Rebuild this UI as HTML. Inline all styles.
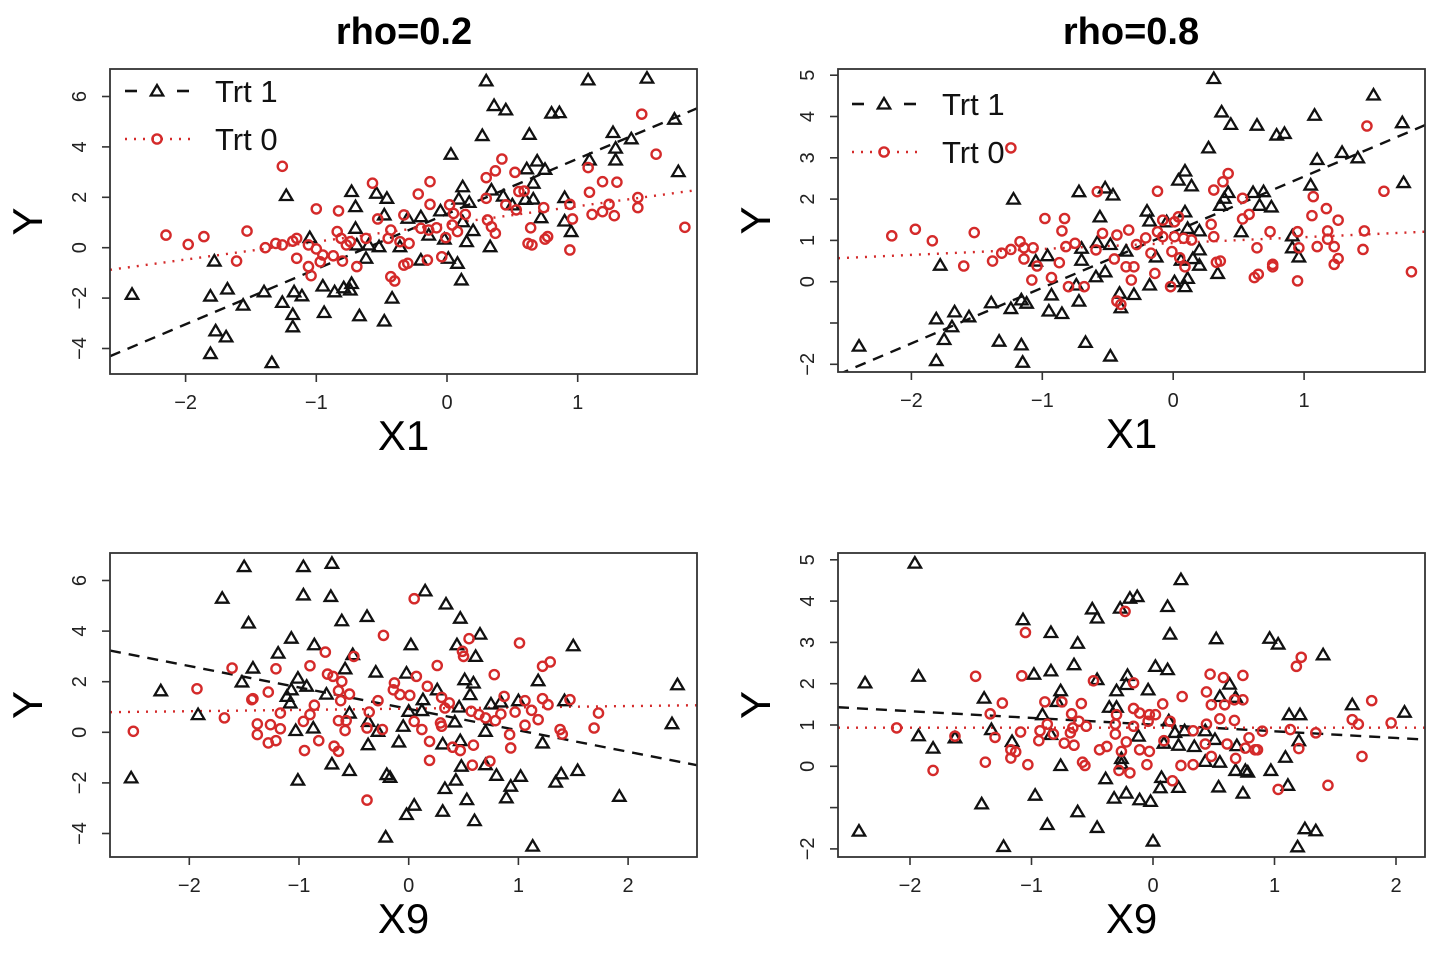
<!DOCTYPE html>
<html><head><meta charset="utf-8"><style>
html,body{margin:0;padding:0;background:#fff;}
svg{display:block;font-family:"Liberation Sans",Arial,sans-serif;}
</style></head><body>
<svg id="chart" width="1444" height="964" viewBox="0 0 1444 964"></svg>
<script>
// ---- data (x, y) ----
const tlTrt1=[[0.30,6.62],[1.08,6.66],[1.53,6.73],[0.36,5.64],[0.45,5.47],[0.80,5.34],[0.86,5.36],[0.27,4.45],[0.63,4.50],[1.27,4.57],[1.74,5.10],[1.41,4.32],[0.03,3.71],[1.29,3.95],[1.29,3.48],[1.09,3.48],[0.69,3.44],[0.61,3.13],[0.75,3.11],[1.77,3.02],[0.66,2.56],[0.34,2.29],[0.43,2.05],[0.12,2.42],[0.60,1.92],[0.66,1.93],[0.90,1.99],[0.50,1.70],[0.09,1.93],[0.17,1.80],[-0.73,2.23],[-0.54,2.16],[-0.46,1.96],[-0.70,1.63],[-0.48,1.30],[-0.30,1.17],[-0.20,1.23],[-0.05,1.46],[0.12,1.03],[0.20,0.68],[0.15,0.24],[0.33,0.04],[0.72,1.19],[0.90,1.06],[0.95,0.64],[-1.23,2.07],[-0.70,0.77],[-1.05,0.40],[-0.69,0.11],[-0.60,0.11],[-0.52,0.04],[-0.36,0.04],[-0.14,0.50],[-0.02,0.34],[-0.62,-0.42],[-0.20,-0.49],[0.01,-0.42],[0.08,-0.62],[0.11,-1.28],[-1.78,-0.53],[-2.41,-1.85],[-1.81,-1.92],[-1.68,-1.64],[-1.40,-1.75],[-1.56,-2.28],[-1.26,-2.17],[-1.17,-1.75],[-1.11,-1.91],[-0.95,-1.52],[-0.86,-1.75],[-0.79,-1.59],[-0.73,-1.42],[-0.74,-1.68],[-0.42,-2.0],[-1.18,-2.65],[-0.94,-2.57],[-0.67,-2.70],[-0.48,-2.91],[-1.77,-3.30],[-1.69,-3.54],[-1.18,-3.14],[-1.81,-4.20],[-1.34,-4.56]];
const tlTrt0=[[1.49,5.30],[1.60,3.71],[-1.26,3.23],[0.42,3.52],[0.37,3.05],[0.30,2.78],[0.52,2.99],[-0.13,2.62],[-0.57,2.56],[-0.22,2.13],[0.59,2.25],[1.08,3.18],[1.09,2.20],[1.19,2.62],[1.30,2.60],[1.46,1.99],[1.46,1.59],[1.24,1.72],[1.19,1.43],[1.11,1.32],[1.28,1.27],[1.82,0.81],[0.94,1.72],[0.96,1.14],[0.74,1.59],[0.53,1.50],[0.64,0.79],[0.77,0.44],[0.75,0.34],[0.62,0.17],[0.65,0.11],[0.94,-0.09],[0.31,1.10],[0.34,0.83],[0.37,0.57],[0.30,1.96],[-0.13,1.72],[0.02,1.70],[0.05,1.36],[0.14,1.32],[0.04,0.90],[0.08,0.64],[-0.01,0.40],[-0.08,0.79],[-0.14,0.70],[-0.20,0.77],[-0.33,1.30],[-0.43,0.70],[-0.45,0.37],[-0.53,1.14],[-0.62,0.37],[-0.83,1.46],[-1.00,1.54],[-0.84,0.64],[-0.81,0.37],[-0.77,0.11],[-0.74,0.24],[-0.87,-0.32],[-0.80,-0.53],[-0.69,-0.75],[-0.95,-0.29],[-1.00,-0.05],[-1.06,0.11],[-1.15,0.37],[-1.18,0.26],[-1.26,0.11],[-1.31,0.17],[-1.39,0.00],[-1.15,-0.42],[-1.06,-0.75],[-1.04,-1.11],[-0.97,-0.56],[-1.53,0.66],[-1.61,-0.53],[-1.86,0.44],[-1.98,0.13],[-2.15,0.50],[-0.43,-1.15],[-0.40,-1.32],[-0.33,-0.69],[-0.30,-0.62],[-0.15,-0.49],[-0.04,-0.36],[-0.36,0.24],[-0.29,0.17],[0.45,1.70],[0.55,2.23]];
const trTrt1=[[0.31,4.92],[1.53,4.52],[0.37,4.11],[0.44,3.81],[0.64,3.79],[0.79,3.55],[0.85,3.59],[1.08,4.03],[1.75,3.85],[0.27,3.24],[1.10,2.96],[1.29,3.13],[1.41,3.0],[1.76,2.40],[0.09,2.68],[0.04,2.46],[0.14,2.32],[1.05,2.34],[0.42,2.16],[0.61,2.16],[0.69,2.18],[0.39,2.02],[0.36,1.85],[0.66,1.85],[0.75,1.81],[-1.22,2.0],[-0.72,2.18],[-0.52,2.27],[-0.46,2.10],[-0.56,1.57],[-0.20,1.71],[-0.18,1.47],[-0.05,1.45],[0.09,1.69],[0.20,1.23],[0.52,1.21],[0.91,1.11],[0.91,0.82],[0.96,0.60],[0.11,1.29],[-0.70,0.81],[-0.58,0.95],[-0.48,0.90],[-0.36,0.74],[-0.13,0.60],[0.06,0.52],[0.20,0.77],[0.20,0.40],[0.15,0.56],[0.34,0.20],[-0.96,0.63],[-1.05,0.50],[-0.70,0.52],[-0.74,-0.08],[-0.59,0.12],[-0.52,0.24],[0.01,0.0],[0.09,-0.12],[0.11,0.08],[-0.18,-0.08],[-0.30,-0.31],[-0.41,-0.28],[-0.72,-0.47],[-0.93,-0.32],[-0.95,-0.71],[-0.85,-0.77],[-0.40,-0.63],[-1.12,-0.52],[-1.16,-0.44],[-1.24,-0.65],[-1.39,-0.51],[-1.56,-0.85],[-1.67,-0.73],[-1.81,-0.90],[-1.69,-1.09],[-1.75,-1.40],[-1.78,0.40],[-2.40,-1.56],[-1.81,-1.91],[-1.33,-1.44],[-1.16,-1.53],[-1.15,-1.95],[-0.67,-1.47],[-0.48,-1.80]];
const trTrt0=[[1.48,3.77],[-1.24,3.24],[0.42,2.62],[0.38,2.42],[0.31,2.22],[-0.12,2.19],[-0.58,2.18],[1.61,2.19],[1.07,2.06],[0.53,2.02],[1.17,1.77],[1.06,1.60],[1.26,1.49],[0.53,1.52],[0.58,1.63],[0.29,1.39],[0.31,1.09],[0.74,1.21],[0.64,0.82],[1.18,1.23],[1.18,1.03],[1.23,0.85],[1.10,0.85],[1.46,1.23],[1.45,0.78],[1.26,0.56],[1.23,0.42],[1.82,0.24],[0.95,1.21],[0.96,0.82],[0.95,0.02],[0.76,0.42],[0.76,0.36],[0.65,0.18],[0.62,0.10],[0.36,0.50],[0.33,0.47],[0.04,1.57],[0.01,1.45],[-0.08,1.49],[-0.12,1.21],[-0.08,1.09],[0.01,1.09],[0.08,1.05],[0.14,1.01],[-0.01,0.73],[0.05,0.58],[0.09,0.36],[-0.02,-0.12],[-0.14,0.20],[-0.17,0.69],[-0.21,1.06],[-0.34,1.25],[-0.28,0.90],[-0.43,1.13],[-0.54,1.17],[-0.59,0.77],[-0.45,0.55],[-0.36,0.36],[-0.30,0.36],[-0.32,0.04],[-0.43,-0.47],[-0.40,-0.55],[-0.68,-0.12],[-0.80,-0.12],[-0.82,0.85],[-0.83,1.53],[-0.98,1.53],[-0.85,1.23],[-0.75,0.93],[-0.87,0.46],[-0.93,0.10],[-1.08,0.04],[-1.04,0.38],[-1.07,0.82],[-1.14,0.82],[-1.17,0.97],[-1.24,0.78],[-1.31,0.69],[-1.38,0.50],[-1.14,0.55],[-1.52,1.19],[-1.60,0.38],[-1.84,0.99],[-1.97,1.27],[-2.15,1.11]];
const blTrt1=[[-1.50,6.55],[-0.96,6.55],[-0.70,6.68],[-1.70,5.30],[-0.96,5.43],[-0.71,5.37],[0.15,5.59],[0.34,5.07],[-1.46,4.32],[-0.61,4.41],[-0.38,4.58],[0.47,4.51],[-1.07,3.72],[-0.86,3.46],[0.02,3.46],[-1.19,3.13],[-0.51,3.07],[0.44,3.46],[0.65,3.88],[0.61,3.0],[1.50,3.42],[-2.26,1.64],[-1.42,2.54],[-1.52,1.99],[-0.58,2.51],[-0.30,2.38],[-0.02,2.34],[-1.01,2.14],[-0.93,1.82],[-1.07,1.68],[-1.11,1.42],[-1.08,1.16],[-0.75,1.51],[0.51,2.08],[0.59,1.95],[0.26,1.68],[0.56,1.49],[0.13,1.29],[0.12,0.86],[0.46,1.0],[1.18,2.04],[1.42,1.25],[1.0,1.25],[0.75,1.12],[0.84,1.20],[2.45,1.88],[2.40,0.34],[-1.92,0.70],[-0.54,0.76],[-0.37,0.43],[0.0,0.83],[-0.05,0.24],[0.42,0.41],[0.70,0.04],[-1.03,0.07],[-0.87,0.17],[-0.28,0.04],[-0.37,-0.49],[-0.09,-0.38],[0.31,-0.46],[0.47,-0.33],[1.22,-0.42],[-0.70,-1.25],[-0.54,-1.51],[-0.20,-1.67],[-0.17,-1.78],[0.48,-1.34],[0.70,-1.28],[0.80,-1.70],[1.02,-1.74],[1.39,-1.64],[1.54,-1.51],[-2.53,-1.80],[-1.01,-1.89],[0.43,-1.89],[0.33,-2.22],[0.93,-2.13],[1.34,-1.97],[0.53,-2.66],[0.89,-2.59],[1.92,-2.53],[0.05,-2.88],[-0.02,-3.25],[0.31,-3.12],[0.60,-3.49],[-0.21,-4.14],[1.13,-4.50]];
const blTrt0=[[0.05,5.28],[-0.23,3.83],[0.55,3.70],[1.01,3.53],[0.49,3.20],[0.50,3.0],[-0.76,3.17],[-0.50,3.0],[-0.90,2.63],[0.26,2.64],[1.29,2.78],[1.22,2.61],[-1.61,2.54],[-0.74,2.30],[-0.69,2.21],[0.07,2.21],[0.78,2.28],[-1.93,1.72],[-1.21,2.51],[-1.42,1.33],[-1.43,1.29],[-1.28,1.59],[-0.61,2.01],[-0.64,1.64],[-0.54,1.51],[-0.62,1.25],[-0.86,1.07],[-0.90,0.70],[-0.96,0.43],[-1.17,0.76],[-1.68,0.57],[-1.38,0.33],[-1.38,-0.09],[-1.26,0.30],[-1.17,0.14],[-1.28,-0.42],[-1.21,-0.33],[-2.51,0.04],[-0.82,-0.33],[-0.95,-0.72],[-0.68,-0.55],[-0.64,-0.75],[-0.64,0.46],[-0.58,0.07],[-0.57,0.46],[-0.36,0.80],[-0.38,0.17],[-0.24,0.11],[-0.28,1.25],[-0.38,-2.68],[-0.13,1.95],[-0.14,1.68],[-0.08,1.49],[0.01,1.46],[0.17,1.82],[0.30,1.38],[0.37,1.16],[0.33,0.96],[0.19,-0.36],[0.19,-1.11],[0.12,0.11],[0.05,0.43],[0.29,0.37],[0.30,0.24],[0.40,-0.59],[0.47,-0.72],[0.59,-0.51],[0.58,-1.30],[0.74,-1.14],[0.57,0.83],[0.64,0.70],[0.70,0.57],[0.79,0.46],[0.84,0.72],[0.87,1.42],[0.92,-0.09],[0.93,-0.62],[0.97,0.80],[1.06,0.28],[1.06,1.25],[1.12,0.87],[1.18,0.50],[1.22,1.33],[1.27,1.09],[1.38,0.11],[1.40,-0.07],[1.47,1.29],[1.69,0.17],[1.73,0.76]];
const brTrt1=[[-1.96,4.92],[0.23,4.52],[-0.19,4.07],[-0.13,4.11],[-0.27,3.83],[-0.50,3.81],[-0.46,3.59],[0.12,3.87],[-1.07,3.55],[-0.84,3.24],[0.14,3.20],[-0.62,2.98],[0.52,3.09],[0.96,3.10],[1.03,2.96],[1.40,2.70],[-1.93,2.18],[-2.37,2.02],[-0.98,2.23],[-0.84,2.31],[-0.65,2.46],[0.02,2.42],[0.12,2.34],[-0.21,2.20],[-0.46,2.10],[-0.22,1.98],[-0.30,1.83],[-0.04,1.85],[-0.76,1.83],[-1.39,1.65],[0.63,1.99],[0.55,1.69],[0.68,1.67],[-0.36,1.43],[-0.30,1.43],[-0.91,1.25],[-0.79,1.57],[0.13,1.10],[1.12,1.25],[1.21,1.25],[1.64,1.49],[2.07,1.31],[-1.93,0.74],[-1.33,0.89],[-0.84,0.77],[-0.12,0.73],[0.18,0.82],[0.26,0.86],[0.43,0.86],[0.51,0.65],[0.69,0.50],[1.20,0.62],[-1.63,0.69],[-1.16,0.60],[-1.81,0.44],[0.09,0.56],[0.21,0.51],[0.34,0.48],[0.43,0.12],[0.55,0.10],[0.68,-0.10],[0.76,-0.10],[0.78,-0.14],[0.97,-0.10],[1.09,0.22],[-0.76,0.02],[-0.26,0.19],[-0.26,0.06],[-0.39,-0.30],[0.07,-0.27],[0.06,-0.52],[0.21,-0.51],[0.54,-0.50],[1.11,-0.46],[0.74,-0.65],[-0.97,-0.70],[-0.32,-0.77],[-0.22,-0.65],[-0.11,-0.81],[-0.02,-0.85],[-1.41,-0.91],[-0.62,-1.10],[-0.87,-1.41],[-0.46,-1.48],[-2.42,-1.57],[-1.23,-1.94],[0.0,-1.81],[1.19,-1.95],[1.25,-1.51],[1.34,-1.56]];
const brTrt0=[[-0.23,3.75],[-1.05,3.24],[1.22,2.64],[1.18,2.42],[-1.46,2.18],[-1.08,2.19],[0.47,2.23],[0.58,2.15],[0.74,2.20],[-0.49,2.07],[-0.16,2.02],[0.44,1.80],[0.24,1.69],[0.67,1.61],[0.74,1.61],[-1.24,1.53],[-0.89,1.56],[-0.59,1.52],[0.08,1.51],[0.48,1.49],[0.59,1.49],[1.80,1.59],[-0.16,1.40],[-0.11,1.29],[-0.03,1.25],[0.02,1.25],[-0.30,1.25],[-0.67,1.27],[-0.75,1.56],[-1.34,1.27],[0.55,1.15],[0.67,1.11],[1.64,1.13],[1.69,1.02],[1.96,1.05],[-2.11,0.93],[-0.87,1.02],[-0.61,1.09],[-0.66,0.93],[-0.55,0.97],[-0.31,1.02],[-0.16,0.97],[-0.04,1.09],[0.14,1.09],[0.44,1.02],[0.33,0.86],[0.90,0.85],[1.13,0.89],[1.34,0.81],[-1.63,0.73],[-1.30,0.70],[-1.09,0.83],[-0.93,0.86],[-0.94,0.62],[-0.82,0.78],[-0.73,0.56],[-0.65,0.51],[-0.68,0.81],[-0.31,0.78],[-0.38,0.48],[-0.44,0.40],[-0.22,0.59],[0.09,0.62],[0.43,0.54],[0.61,0.54],[0.79,0.69],[0.76,0.44],[0.84,0.40],[0.86,0.40],[1.20,0.43],[1.72,0.24],[-1.17,0.40],[-1.13,0.35],[-1.17,0.20],[-0.11,0.40],[-0.03,0.36],[-0.26,0.36],[0.48,0.24],[0.68,0.19],[-1.38,0.10],[-1.03,0.04],[-0.58,0.10],[-0.56,0.02],[-0.05,0.04],[0.23,0.02],[0.33,0.04],[-0.28,-0.10],[-0.19,-0.16],[-1.81,-0.10],[0.16,-0.35],[1.03,-0.56],[1.44,-0.46]];
// fitted lines: [intercept, slope]
const tlFit1=[1.34,2.19], tlFit0=[0.94,0.705];
const trFit1=[1.20,1.347], trFit0=[0.935,0.143];
const blFit1=[0.925,-0.847], blFit0=[0.935,0.051];
const brFit1=[1.01,-0.162], brFit0=[0.935,0.0];
// tick labels
const xTicksTop=[-2,-1,0,1];
const xTicksBot=[-2,-1,0,1,2];
const yTicksA=[-4,-2,0,2,4,6];
const yTicksB=[-2,-1,0,1,2,3,4,5];
const yLabelsB=["-2","","0","1","2","3","4","5"];

const NS="http://www.w3.org/2000/svg";
const svg=document.getElementById('chart');
function mk(tag,attrs,parent){const e=document.createElementNS(NS,tag);for(const k in attrs)e.setAttribute(k,attrs[k]);(parent||svg).appendChild(e);return e;}

const panels=[
 {id:'top-left',L:110,R:697,T:69,B:374,x0:447,sx:130.7,y0:247.7,sy:25.2,t1:tlTrt1,t0:tlTrt0,f1:tlFit1,f0:tlFit0,xt:xTicksTop,yt:yTicksA,yl:null,xlab:'X1',legend:{y1:91,y2:139,lx:125,tx:215}},
 {id:'top-right',L:838,R:1425,T:69,B:372,x0:1173.2,sx:130.9,y0:281.7,sy:41.3,t1:trTrt1,t0:trTrt0,f1:trFit1,f0:trFit0,xt:xTicksTop,yt:yTicksB,yl:yLabelsB,xlab:'X1',legend:{y1:104,y2:152,lx:852,tx:942}},
 {id:'bottom-left',L:110,R:697,T:553,B:857,x0:408.7,sx:109.7,y0:732.3,sy:25.3,t1:blTrt1,t0:blTrt0,f1:blFit1,f0:blFit0,xt:xTicksBot,yt:yTicksA,yl:null,xlab:'X9'},
 {id:'bottom-right',L:838,R:1425,T:553,B:857,x0:1153,sx:121.5,y0:766.3,sy:41.3,t1:brTrt1,t0:brTrt0,f1:brFit1,f0:brFit0,xt:xTicksBot,yt:yTicksB,yl:yLabelsB,xlab:'X9'}
];

function tri(g,cx,cy){return mk('polygon',{points:`${cx},${cy-6} ${cx-6.2},${cy+4.5} ${cx+6.2},${cy+4.5}`,fill:'none',stroke:'#111','stroke-width':2.3,'stroke-linejoin':'miter'},g);}
function circ(g,cx,cy){return mk('circle',{cx:cx,cy:cy,r:4.6,fill:'none',stroke:'#d42a2a','stroke-width':2.4},g);}

// titles
let t=mk('text',{x:404,y:44,'text-anchor':'middle','font-size':38,'font-weight':'bold',fill:'#000'});t.textContent='rho=0.2';


t=mk('text',{x:1131,y:44,'text-anchor':'middle','font-size':38,'font-weight':'bold',fill:'#000'});t.textContent='rho=0.8';



panels.forEach(p=>{
  const g=mk('g',{});
  
  
  const X=v=>p.x0+p.sx*v, Y=v=>p.y0-p.sy*v;
  const clipId='clip-'+p.id;
  const cp=mk('clipPath',{id:clipId},g);mk('rect',{x:p.L,y:p.T,width:p.R-p.L,height:p.B-p.T},cp);
  const xa=(p.L-p.x0)/p.sx, xb=(p.R-p.x0)/p.sx;
  let ln=mk('line',{x1:X(xa),y1:Y(p.f1[0]+p.f1[1]*xa),x2:X(xb),y2:Y(p.f1[0]+p.f1[1]*xb),stroke:'#111','stroke-width':2.4,'stroke-dasharray':'11 8','clip-path':`url(#${clipId})`},g);
  
  
  ln=mk('line',{x1:X(xa),y1:Y(p.f0[0]+p.f0[1]*xa),x2:X(xb),y2:Y(p.f0[0]+p.f0[1]*xb),stroke:'#d42a2a','stroke-width':2.4,'stroke-dasharray':'2 7','clip-path':`url(#${clipId})`},g);
  
  
  p.t1.forEach(d=>{const e=tri(g,X(d[0]),Y(d[1]));
    
    });
  p.t0.forEach(d=>{const e=circ(g,X(d[0]),Y(d[1]));
    
    });
  const box=mk('rect',{x:p.L,y:p.T,width:p.R-p.L,height:p.B-p.T,fill:'none',stroke:'#333','stroke-width':1.8},g);
  
  
  p.xt.forEach(v=>{
    mk('line',{x1:X(v),y1:p.B,x2:X(v),y2:p.B+8,stroke:'#333','stroke-width':1.6},g);
    const tx=mk('text',{x:X(v),y:p.B+35,'text-anchor':'middle','font-size':20,fill:'#222'},g);
    tx.textContent=v<0?'\u2212'+(-v):String(v);
    
    
  });
  p.yt.forEach((v,i)=>{
    mk('line',{x1:p.L-8,y1:Y(v),x2:p.L,y2:Y(v),stroke:'#333','stroke-width':1.6},g);
    const lab=p.yl?p.yl[i]:String(v);
    if(lab!==''){
      const tx=mk('text',{x:p.L-24,y:Y(v),'text-anchor':'middle','font-size':20,fill:'#222',transform:`rotate(-90 ${p.L-24} ${Y(v)})`},g);
      tx.textContent=lab.replace('-','\u2212');
      
      
    }
  });
  const xl=mk('text',{x:(p.L+p.R)/2,y:p.B+76,'text-anchor':'middle','font-size':42,fill:'#000'},g);
  xl.textContent=p.xlab;
  
  
  const yx=p.L-68, yy=(p.T+p.B)/2;
  const yl=mk('text',{x:yx,y:yy,'text-anchor':'middle','font-size':42,fill:'#000',transform:`rotate(-90 ${yx} ${yy})`},g);
  yl.textContent='Y';
  
  
  if(p.legend){
    const L=p.legend;
    const lg=mk('g',{},g);
    
    
    mk('line',{x1:L.lx,y1:L.y1,x2:L.lx+12,y2:L.y1,stroke:'#111','stroke-width':2.6},lg);
    mk('line',{x1:L.lx+52,y1:L.y1,x2:L.lx+64,y2:L.y1,stroke:'#111','stroke-width':2.6},lg);
    tri(lg,L.lx+32,L.y1);
    let e=mk('text',{x:L.tx,y:L.y1+11,'font-size':31,fill:'#111'},lg);e.textContent='Trt 1';
    
    
    mk('line',{x1:L.lx,y1:L.y2,x2:L.lx+65,y2:L.y2,stroke:'#d42a2a','stroke-width':2.4,'stroke-dasharray':'2 7'},lg);
    circ(lg,L.lx+32,L.y2);
    e=mk('text',{x:L.tx,y:L.y2+11,'font-size':31,fill:'#111'},lg);e.textContent='Trt 0';
    
    
  }
});
</script>
</body></html>
